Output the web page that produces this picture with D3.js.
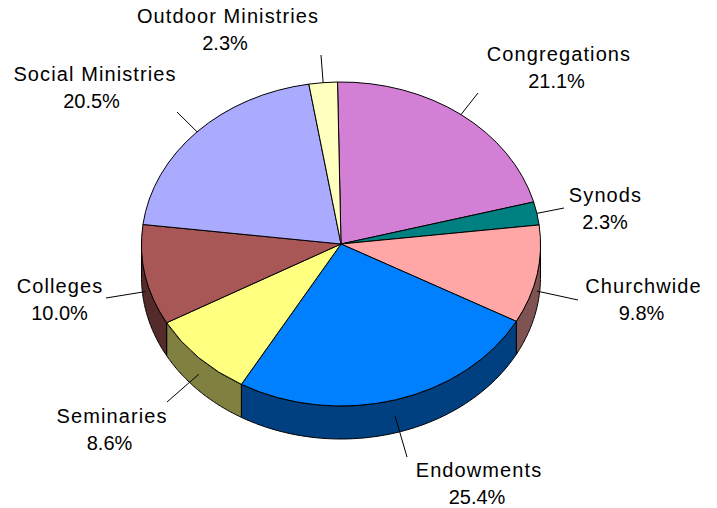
<!DOCTYPE html>
<html>
<head>
<meta charset="utf-8">
<script src="https://cdn.jsdelivr.net/npm/d3@7"></script>
<style>
html, body { margin: 0; background: #fff; }
svg { display: block; }
text { font-family: "Liberation Sans", Arial, sans-serif; font-size: 20px; fill: #000; text-anchor: middle; }
.name { letter-spacing: 1.1px; }
</style>
</head>
<body>
<div id="container"></div>
<script>
let w = 717;
let h = 508;

// clockwise from just left of 12 o'clock
let categories = ["Congregations","Synods","Churchwide","Endowments","Seminaries","Colleges","Social Ministries","Outdoor Ministries"];
let shares = [21.1,2.3,9.8,25.4,8.6,10.0,20.5,2.3];
let colors = ["#D37FD5","#008080","#FFA6A6","#0080FF","#FFFF80","#A85656","#AAAAFF","#FFFFC0"];
let sideColors = ["#6A406B","#004040","#805353","#004080","#808040","#542B2B","#555580","#808060"];

// label placement: name centre, percent centre, first baseline, leader end
let labelX = [559,605.5,643.5,479,112,60,95,228];
let percentX = [556.5,605,641.5,477,109.5,59.5,91.5,225];
let labelY = [61,202,293,477,423,293,81,23];
let leaderEndX = [478,564,578,407,167,106,177,321];
let leaderEndY = [93,208,300,457,402,298,112,55];

let cx = 341, cy = 244, rx = 199.5, ry = 162, depth = 33;
let startAngle = -1 * Math.PI / 180;

let viz = d3.select("#container")
  .append("svg")
    .attr("width", w)
    .attr("height", h)
    .attr("viewBox", "0 0 " + w + " " + h);

let pie = d3.pie().sort(null)
  .startAngle(startAngle)
  .endAngle(startAngle + 2 * Math.PI);
let arcs = pie(shares);

// ellipse point for a pie angle, measured clockwise from the top
let ex = a => cx + rx * Math.sin(a);
let ey = a => cy - ry * Math.cos(a);

let line = d3.line().x(d => d[0]).y(d => d[1]);

// front wall of a slice, only the part between 3 and 9 o'clock shows
function wall(d) {
  let a0 = Math.max(d.startAngle, Math.PI / 2);
  let a1 = Math.min(d.endAngle, 3 * Math.PI / 2);
  if (a1 <= a0) return null;
  let angles = d3.range(0, 61).map(i => a0 + (a1 - a0) * i / 60);
  let top = angles.map(a => [ex(a), ey(a)]);
  let bottom = angles.slice().reverse().map(a => [ex(a), ey(a) + depth]);
  return line(top.concat(bottom)) + "Z";
}

viz.selectAll("path.wall")
  .data(arcs.filter(d => wall(d)))
  .enter()
  .append("path")
    .attr("class", "wall")
    .attr("d", wall)
    .attr("fill", d => sideColors[d.index])
    .attr("stroke", "#000")
    .attr("stroke-width", 1)
    .attr("stroke-linejoin", "round");

let arc = d3.arc().innerRadius(0).outerRadius(rx);

viz.append("g")
    .attr("transform", "translate(" + cx + "," + cy + ") scale(1," + (ry / rx) + ")")
  .selectAll("path")
  .data(arcs)
  .enter()
  .append("path")
    .attr("d", arc)
    .attr("fill", d => colors[d.index])
    .attr("stroke", "#000")
    .attr("stroke-width", 1)
    .attr("vector-effect", "non-scaling-stroke");

// leaders start on the rim at the slice's mid angle, halfway down the wall on the front
function leaderStart(d) {
  let mid = (d.startAngle + d.endAngle) / 2;
  let front = mid > Math.PI / 2 && mid < 3 * Math.PI / 2;
  return [ex(mid), ey(mid) + (front ? depth / 2 : 0)];
}

viz.selectAll("line.leader")
  .data(arcs)
  .enter()
  .append("line")
    .attr("class", "leader")
    .attr("x1", d => leaderStart(d)[0])
    .attr("y1", d => leaderStart(d)[1])
    .attr("x2", d => leaderEndX[d.index])
    .attr("y2", d => leaderEndY[d.index])
    .attr("stroke", "#000")
    .attr("stroke-width", 1);

let labels = viz.selectAll("text")
  .data(arcs)
  .enter()
  .append("text")
    .attr("x", d => labelX[d.index])
    .attr("y", d => labelY[d.index]);

labels.append("tspan")
    .attr("class", "name")
    .attr("x", d => labelX[d.index])
    .text(d => categories[d.index]);
labels.append("tspan")
    .attr("x", d => percentX[d.index])
    .attr("dy", 27)
    .text(d => d3.format(".1f")(shares[d.index]) + "%");
</script>
</body>
</html>
